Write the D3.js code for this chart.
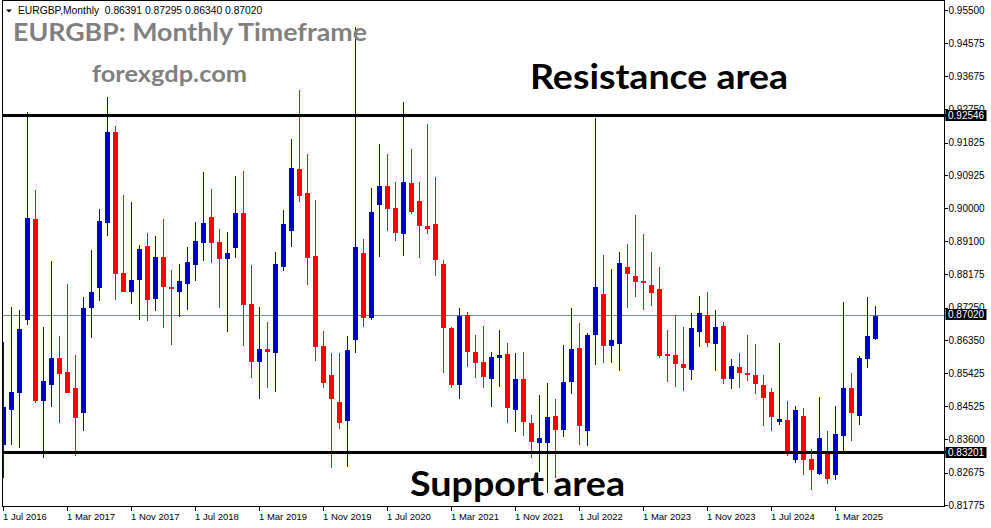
<!DOCTYPE html>
<html><head><meta charset="utf-8">
<script src="https://cdn.jsdelivr.net/npm/d3@7/dist/d3.min.js"></script>
<style>html,body{margin:0;padding:0;background:#fff;}svg{display:block;}</style>
</head><body>
<svg id="chart" width="991" height="528"></svg>
<script>
// ---- data ----
const categories = d3.timeMonth.range(new Date(2016, 6, 1), new Date(2025, 8, 1)).map(d3.timeFormat("%-d %b %Y"));

const openV = [
.83438,.84409,.84889,.86905,.89705,.84667,.85102,.85860,.85471,.85028,
.84334,.87246,.87801,.89602,.92118,.88208,.87689,.88022,.88957,.87495,
.88651,.87828,.87689,.87911,.88438,.89048,.89761,.89068,.88604,.88909,
.89872,.87348,.85748,.86100,.85998,.88382,.89381,.91091,.90426,.88679,
.86184,.85379,.84639,.84113,.86350,.88770,.86969,.90102,.90628,.90019,
.89298,.90703,.90204,.89511,.89566,.88457,.86692,.85102,.87043,.86026,
.85748,.85277,.85860,.85962,.84417,.85268,.84048,.83503,.83503,.84243,
.83855,.85194,.86128,.83836,.86489,.87625,.86192,.86247,.88374,.88125,
.87986,.87875,.87764,.85962,.85934,.85684,.85526,.86580,.87043,.86247,
.86738,.85277,.85601,.85435,.85379,.85102,.84908,.84085,.84132,.83023,
.84243,.83050,.82635,.83198,.82607,.83688,.85019,.84251,.85832,.86391];

const highV = [
.86303,.87273,.87182,.92680,.90509,.86719,.88540,.86461,.87903,.85934,
.87550,.88845,.89982,.93096,.92284,.90370,.90177,.88984,.89309,.89234,
.89705,.88291,.88457,.88929,.89622,.91009,.90536,.89427,.89345,.90898,
.91036,.88429,.87273,.86858,.88798,.89955,.91923,.93282,.91507,.90232,
.86599,.85982,.85998,.86461,.95037,.89142,.90573,.91784,.91507,.90731,
.92958,.91645,.90731,.92339,.90878,.88568,.86719,.87246,.87135,.86489,
.86738,.86009,.86627,.86275,.85998,.86017,.84270,.84825,.85158,.84714,
.86211,.87237,.86822,.86544,.92497,.88707,.88318,.88790,.89012,.89816,
.89289,.88790,.88374,.86627,.87043,.86710,.87099,.87570,.87681,.87182,
.86849,.85823,.85990,.86489,.86239,.85379,.85011,.86267,.84659,.84520,
.84456,.83328,.84769,.83827,.84520,.87404,.85435,.85907,.87542,.87295];

const lowV = [
.82515,.83438,.83347,.86766,.84595,.83070,.84500,.84041,.84873,.83142,
.83836,.86414,.87440,.89242,.87459,.87672,.87356,.86905,.86886,.87163,
.86692,.86211,.86996,.87182,.87986,.88540,.88493,.87246,.86580,.88632,
.86192,.85305,.84714,.85028,.84917,.88272,.88937,.90185,.87875,.85776,
.85011,.82793,.83883,.82838,.85982,.86719,.86905,.88660,.89372,.89095,
.88688,.89844,.88632,.89298,.88133,.85443,.85028,.84714,.85610,.85305,
.85011,.84500,.85038,.84041,.83808,.83697,.83070,.82689,.82108,.82524,
.83669,.84853,.83439,.83419,.85656,.85721,.85721,.85499,.87246,.87551,
.87182,.87301,.85859,.85194,.85055,.84944,.85249,.86164,.86164,.85499,
.85138,.85000,.85028,.85222,.84861,.83974,.83836,.83992,.83134,.82948,
.82607,.82191,.82620,.82357,.82468,.83253,.83550,.83992,.85582,.86340];

const closeV = [
.84500,.84917,.86655,.89742,.84667,.85213,.85860,.85407,.84889,.84196,
.87237,.87681,.89649,.92118,.88172,.87689,.88014,.88873,.87467,.88651,
.87828,.87773,.87986,.88513,.89095,.89594,.89048,.88604,.88762,.89872,
.87329,.85748,.86100,.86026,.88457,.89566,.91119,.90351,.88632,.86164,
.85150,.84705,.84041,.86073,.88937,.86969,.89908,.90628,.89991,.89326,
.90731,.89899,.89519,.89436,.88577,.86692,.85102,.87024,.86026,.85721,
.85333,.85878,.85934,.84473,.85268,.84085,.83531,.83633,.84215,.83855,
.85186,.86100,.83974,.86489,.87819,.86192,.86350,.88485,.88188,.87967,
.87939,.87662,.85915,.85915,.85693,.85582,.86683,.87099,.86275,.86710,
.85277,.85629,.85443,.85388,.85138,.84733,.84223,.84160,.83208,.84409,
.83023,.82745,.83633,.82496,.83744,.85019,.84334,.85851,.86461,.87020];

const priceTicks = [0.95500,0.94575,0.93675,0.92750,0.91825,0.90925,0.90000,0.89100,
                    0.88175,0.87250,0.86350,0.85425,0.84525,0.83600,0.82675,0.81775];
const dateTicks = ["1 Jul 2016","1 Mar 2017","1 Nov 2017","1 Jul 2018","1 Mar 2019","1 Nov 2019","1 Jul 2020",
                   "1 Mar 2021","1 Nov 2021","1 Jul 2022","1 Mar 2023","1 Nov 2023","1 Jul 2024","1 Mar 2025"];
const resistanceLevel = 0.92546;
const supportLevel = 0.83201;
const lastPrice = 0.87020;
const headerSymbol = "EURGBP,Monthly";
const headerOHLC = "0.86391 0.87295 0.86340 0.87020";
const titleText = "EURGBP: Monthly Timeframe";
const siteText = "forexgdp.com";
const resistanceText = "Resistance area";
const supportText = "Support area";

// ---- layout ----
const svg = d3.select("#chart");
const L = 2.5, T = 0.5, R = 944.5, B = 506.5;
const upColor = "#0000CD", downColor = "#FF0000";
const axisFont = "'Liberation Sans', Arial, sans-serif";
const bigFont = "Lato, 'Open Sans', sans-serif";

const x = d3.scaleBand().domain(categories)
  .range([1, 1 + 8 * (categories.length - 0.375)])
  .paddingInner(0.375).paddingOuter(0);
const y = d3.scaleLinear().domain([0.81775, 0.955]).range([505, 10]);
const ry = v => Math.round(y(v));
const lineY = v => Math.round(y(v)) - 1.5;   // pixel-centre of a horizontal level line

svg.append("defs").append("clipPath").attr("id", "clip")
  .append("rect").attr("x", L).attr("y", T).attr("width", R - L).attr("height", B - T);

// current price line (background)
svg.append("line").attr("x1", L).attr("x2", R)
  .attr("y1", ry(lastPrice) - 0.5).attr("y2", ry(lastPrice) - 0.5)
  .attr("stroke", "#778899").attr("stroke-width", 1).attr("shape-rendering", "crispEdges");

const candles = categories.map((c, i) => ({ c, o: openV[i], h: highV[i], l: lowV[i], cl: closeV[i] }));
const cg = svg.append("g").attr("clip-path", "url(#clip)");
const col = d => d.cl >= d.o ? upColor : downColor;

cg.selectAll("line.wick").data(candles).join("line").attr("class", "wick")
  .attr("x1", d => x(d.c) + x.bandwidth() / 2).attr("x2", d => x(d.c) + x.bandwidth() / 2)
  .attr("y1", d => ry(d.h)).attr("y2", d => ry(d.l))
  .attr("stroke", col).attr("stroke-width", 1).attr("shape-rendering", "crispEdges");

cg.selectAll("rect.body").data(candles).join("rect").attr("class", "body")
  .attr("x", d => x(d.c)).attr("width", x.bandwidth())
  .attr("y", d => ry(Math.max(d.o, d.cl)))
  .attr("height", d => Math.max(1, ry(Math.min(d.o, d.cl)) - ry(Math.max(d.o, d.cl))))
  .attr("fill", col).attr("shape-rendering", "crispEdges");

// support / resistance lines
[resistanceLevel, supportLevel].forEach(v => {
  svg.append("line").attr("x1", L).attr("x2", R + 3)
    .attr("y1", lineY(v)).attr("y2", lineY(v))
    .attr("stroke", "#000").attr("stroke-width", 3).attr("shape-rendering", "crispEdges");
});

// frame
svg.append("rect").attr("x", L).attr("y", T).attr("width", R - L).attr("height", B - T)
  .attr("fill", "none").attr("stroke", "#000").attr("stroke-width", 1).attr("shape-rendering", "crispEdges");

// right axis
const yAxis = d3.axisRight(y).tickValues(priceTicks).tickFormat(d3.format(".5f")).tickSize(3).tickPadding(1);
const ya = svg.append("g").attr("transform", `translate(${R},0)`).call(yAxis);
ya.select(".domain").remove();
ya.selectAll("line").attr("stroke", "#000").attr("shape-rendering", "crispEdges");
ya.selectAll("text").attr("font-family", axisFont).attr("font-size", 10).attr("fill", "#000");

// bottom axis
const xAxis = d3.axisBottom(x).tickValues(dateTicks).tickSize(4).tickPadding(3);
const xa = svg.append("g").attr("transform", `translate(0,${B})`).call(xAxis);
xa.select(".domain").remove();
xa.selectAll("line").attr("stroke", "#000").attr("shape-rendering", "crispEdges");
xa.selectAll("text").attr("font-family", axisFont).attr("font-size", 9.5).attr("fill", "#000")
  .attr("text-anchor", "start").attr("x", -0.5);

// price boxes (drawn over the axis labels, as in the terminal)
[resistanceLevel, lastPrice, supportLevel].forEach(v => {
  const yc = lineY(v);
  svg.append("rect").attr("x", R + 1).attr("y", yc - 5.5).attr("width", 41).attr("height", 11).attr("fill", "#000");
  svg.append("text").attr("x", R + 3.5).attr("y", yc).attr("dy", "0.36em")
    .attr("font-family", axisFont).attr("font-size", 10).attr("fill", "#fff").text(d3.format(".5f")(v));
});

// header
svg.append("path").attr("d", "M6,9.5L12,9.5L9,12.5Z").attr("fill", "#000");
svg.append("text").attr("x", 18).attr("y", 14).attr("font-family", axisFont).attr("font-size", 10.3)
  .attr("fill", "#000").attr("xml:space", "preserve").text(headerSymbol + "  " + headerOHLC);

// big texts
svg.append("text").attr("x", 13).attr("y", 41).attr("font-family", bigFont).attr("font-weight", 700)
  .attr("font-size", 24).attr("fill", "#808080").attr("textLength", 354).attr("lengthAdjust", "spacingAndGlyphs").text(titleText);
svg.append("text").attr("x", 92).attr("y", 82).attr("font-family", bigFont).attr("font-weight", 700)
  .attr("font-size", 22).attr("fill", "#808080").attr("textLength", 155).attr("lengthAdjust", "spacingAndGlyphs").text(siteText);
svg.append("text").attr("x", 530).attr("y", 89).attr("font-family", bigFont).attr("font-weight", 700)
  .attr("font-size", 34).attr("fill", "#000").attr("textLength", 258).attr("lengthAdjust", "spacingAndGlyphs").text(resistanceText);
svg.append("text").attr("x", 410).attr("y", 496).attr("font-family", bigFont).attr("font-weight", 700)
  .attr("font-size", 34).attr("fill", "#000").attr("textLength", 215).attr("lengthAdjust", "spacingAndGlyphs").text(supportText);
</script>
</body></html>
